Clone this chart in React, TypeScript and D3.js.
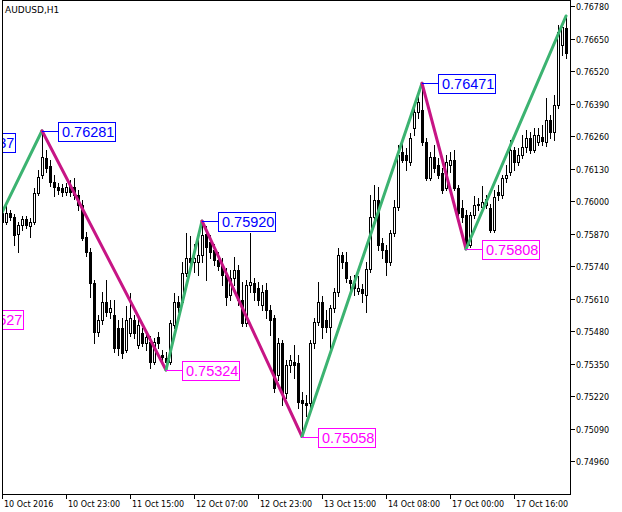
import React from "react";
import * as d3 from "d3";

const W = 622;
const H = 512;

const SYMBOL_TITLE = "AUDUSD,H1";

const PRICE_TICKS = [0.7678, 0.7665, 0.7652, 0.7639, 0.7626, 0.7613, 0.76, 0.7587, 0.7574, 0.7561, 0.7548, 0.7535, 0.7522, 0.7509, 0.7496];

const TIME_LABEL_BARS = [0, 16, 32, 48, 64, 80, 96, 112, 128];
const TIME_LABELS = ["10 Oct 2016", "10 Oct 23:00", "11 Oct 15:00", "12 Oct 07:00", "12 Oct 23:00", "13 Oct 15:00", "14 Oct 08:00", "17 Oct 00:00", "17 Oct 16:00"];

const OPEN = [
  0.75952, 0.75916, 0.75952, 0.75936, 0.75868, 0.75904, 0.75928, 0.759, 0.75916, 0.76032,
  0.76104, 0.76172, 0.7614, 0.76076, 0.76056, 0.76052, 0.76036, 0.76064, 0.76056, 0.76024,
  0.75984, 0.75856, 0.75796, 0.75672, 0.75476, 0.75524, 0.75596, 0.75556, 0.75544, 0.75492,
  0.75492, 0.75404, 0.75472, 0.75524, 0.75424, 0.75472, 0.75432, 0.75436, 0.75356, 0.75456,
  0.75384, 0.75372, 0.75356, 0.75504, 0.75596, 0.75596, 0.75712, 0.75772, 0.75756, 0.75756,
  0.75784, 0.75868, 0.75836, 0.75804, 0.75764, 0.75744, 0.75704, 0.75624, 0.75692, 0.75724,
  0.75604, 0.75512, 0.75664, 0.75672, 0.75652, 0.75584, 0.75644, 0.75564, 0.75532, 0.75304,
  0.75432, 0.75232, 0.75344, 0.75356, 0.75352, 0.75204, 0.75192, 0.75192, 0.75432, 0.75516,
  0.75596, 0.75524, 0.75496, 0.75572, 0.75636, 0.75784, 0.75756, 0.75684, 0.75672, 0.7564,
  0.75648, 0.75624, 0.75728, 0.75936, 0.76004, 0.75832, 0.75804, 0.75756, 0.75872, 0.75976,
  0.76196, 0.76184, 0.76156, 0.76292, 0.76356, 0.76364, 0.76236, 0.76092, 0.76176, 0.76144,
  0.76112, 0.76052, 0.76144, 0.76164, 0.76052, 0.75972, 0.75944, 0.75824, 0.75944, 0.75984,
  0.75976, 0.75984, 0.75972, 0.75884, 0.76036, 0.76024, 0.76092, 0.76116, 0.76204, 0.76156,
  0.76184, 0.76216, 0.76252, 0.76204, 0.76236, 0.76256, 0.76236, 0.76324, 0.76276, 0.76384,
  0.76624, 0.76692,
];

const HIGH = [
  0.75972, 0.75988, 0.75964, 0.75948, 0.75916, 0.7594, 0.7594, 0.75932, 0.76052, 0.76124,
  0.76281, 0.76204, 0.76164, 0.76104, 0.76072, 0.76068, 0.76072, 0.76084, 0.76092, 0.76044,
  0.76004, 0.75876, 0.75812, 0.75684, 0.75544, 0.75636, 0.75684, 0.75604, 0.75604, 0.75524,
  0.75532, 0.7558, 0.75632, 0.75544, 0.75532, 0.75492, 0.75484, 0.7546, 0.75452, 0.75476,
  0.75404, 0.75396, 0.75524, 0.75632, 0.7562, 0.75756, 0.75872, 0.7586, 0.75828, 0.75844,
  0.7592, 0.759, 0.75864, 0.75828, 0.75796, 0.75772, 0.75732, 0.75724, 0.75776, 0.75744,
  0.75676, 0.75684, 0.75872, 0.75692, 0.75676, 0.75664, 0.75672, 0.75584, 0.75544, 0.75452,
  0.75444, 0.75364, 0.75384, 0.75424, 0.75384, 0.75236, 0.75224, 0.75444, 0.75532, 0.75676,
  0.7562, 0.75564, 0.75584, 0.75652, 0.75812, 0.75796, 0.75796, 0.757, 0.75704, 0.757,
  0.75668, 0.75756, 0.76024, 0.76064, 0.76056, 0.75852, 0.75824, 0.75884, 0.76004, 0.76224,
  0.76232, 0.76212, 0.76272, 0.76372, 0.76436, 0.76471, 0.76252, 0.76196, 0.76224, 0.76172,
  0.76132, 0.76184, 0.76196, 0.76204, 0.76064, 0.76004, 0.75964, 0.75956, 0.7602, 0.76012,
  0.7606, 0.76024, 0.75988, 0.76044, 0.76064, 0.76104, 0.76144, 0.76244, 0.76216, 0.76212,
  0.76264, 0.76284, 0.76276, 0.76292, 0.76292, 0.76304, 0.76412, 0.76344, 0.76424, 0.76704,
  0.76716, 0.7674,
];

const LOW = [
  0.75908, 0.75908, 0.75924, 0.75824, 0.75796, 0.75884, 0.75892, 0.75856, 0.75908, 0.76024,
  0.76092, 0.76116, 0.7606, 0.7602, 0.76028, 0.7602, 0.76024, 0.7602, 0.76008, 0.75964,
  0.75844, 0.7578, 0.75616, 0.75432, 0.7546, 0.75508, 0.7554, 0.75532, 0.75396, 0.75384,
  0.75372, 0.75396, 0.7546, 0.75452, 0.75412, 0.7542, 0.75404, 0.75332, 0.75348, 0.75412,
  0.75356, 0.75324, 0.75348, 0.75492, 0.75556, 0.75588, 0.757, 0.75724, 0.75716, 0.75704,
  0.75756, 0.75684, 0.75772, 0.75744, 0.75724, 0.75664, 0.75584, 0.75604, 0.75664, 0.75584,
  0.755, 0.755, 0.75636, 0.75604, 0.75584, 0.75564, 0.75532, 0.75464, 0.75236, 0.75284,
  0.75184, 0.75212, 0.75316, 0.75292, 0.75172, 0.75058, 0.7514, 0.75172, 0.75412, 0.75504,
  0.75452, 0.75476, 0.75412, 0.75556, 0.7562, 0.75732, 0.75676, 0.75644, 0.75624, 0.75628,
  0.75596, 0.75556, 0.75716, 0.75924, 0.75804, 0.75772, 0.75704, 0.75744, 0.7586, 0.75964,
  0.76156, 0.76124, 0.76144, 0.76264, 0.76332, 0.76224, 0.76084, 0.76084, 0.76116, 0.76092,
  0.76032, 0.76044, 0.76116, 0.76044, 0.75932, 0.75916, 0.75808, 0.75816, 0.75932, 0.75964,
  0.75956, 0.75972, 0.75876, 0.75876, 0.76004, 0.76012, 0.76076, 0.76104, 0.76124, 0.76144,
  0.76172, 0.76196, 0.76192, 0.76196, 0.76224, 0.76224, 0.7622, 0.76252, 0.76244, 0.76372,
  0.76584, 0.76572,
];

const CLOSE = [
  0.75916, 0.75952, 0.75936, 0.75864, 0.75904, 0.75928, 0.75904, 0.75916, 0.76032, 0.76096,
  0.76176, 0.76132, 0.76076, 0.76056, 0.76044, 0.76036, 0.76056, 0.76036, 0.76024, 0.75984,
  0.75852, 0.75796, 0.75672, 0.75476, 0.75524, 0.75596, 0.75556, 0.75572, 0.75412, 0.75412,
  0.75392, 0.75524, 0.75532, 0.75472, 0.75504, 0.75432, 0.75456, 0.75356, 0.75436, 0.75432,
  0.75376, 0.75356, 0.75512, 0.75596, 0.75576, 0.75712, 0.75772, 0.75756, 0.75772, 0.75784,
  0.75864, 0.75816, 0.75796, 0.75764, 0.7574, 0.75704, 0.75616, 0.75692, 0.75724, 0.75604,
  0.75512, 0.75664, 0.75676, 0.75636, 0.75604, 0.75636, 0.75564, 0.75524, 0.75252, 0.75432,
  0.75232, 0.75344, 0.75364, 0.75344, 0.75196, 0.75192, 0.75184, 0.75432, 0.75516, 0.75596,
  0.75496, 0.75496, 0.75572, 0.75636, 0.75784, 0.75756, 0.75692, 0.75672, 0.75652, 0.75652,
  0.75632, 0.75728, 0.75936, 0.76004, 0.75824, 0.75804, 0.75756, 0.75872, 0.75976, 0.76184,
  0.76164, 0.76164, 0.76252, 0.76356, 0.76396, 0.76236, 0.76092, 0.76176, 0.76132, 0.76104,
  0.76044, 0.76156, 0.76164, 0.76052, 0.75952, 0.75936, 0.75824, 0.75944, 0.75984, 0.75988,
  0.75996, 0.76008, 0.75884, 0.76016, 0.76024, 0.76092, 0.76104, 0.76204, 0.76156, 0.76184,
  0.76216, 0.76252, 0.76204, 0.76264, 0.76264, 0.7624, 0.76324, 0.76276, 0.76384, 0.76676,
  0.76696, 0.76592,
];

// ZigZag pivots (bar index relative to first visible bar, price)
const PIVOT_BARS = [-15, -13, 10, 41, 50, 75, 105, 116, 141];
const PIVOT_PRICES = [0.76237, 0.75527, 0.76281, 0.75324, 0.7592, 0.75058, 0.76471, 0.75808, 0.7674];
const PIVOT_LABELS = ["0.76237", "0.75527", "0.76281", "0.75324", "0.75920", "0.75058", "0.76471", "0.75808", ""];

const PLOT_L = 2;
const PLOT_R = 570;
const PLOT_T = 0;
const PLOT_B = 494;

const AXIS_FONT = "'DejaVu Sans', sans-serif";
const LABEL_FONT = "'Liberation Sans', Arial, sans-serif";
const UP_COLOR = "#3cb371";
const DOWN_COLOR = "#c71585";
const HIGH_LABEL_COLOR = "#0000ff";
const LOW_LABEL_COLOR = "#ff00ff";

export default function App() {
  const n = OPEN.length;
  const x = d3.scaleLinear().domain([0, n - 1]).range([2, 566]);
  const y = d3.scaleLinear().domain([0.7496, 0.7678]).range([461, 6]);

  const candles = d3.range(n).map((i) => {
    const cx = Math.round(x(i));
    const o = OPEN[i], c = CLOSE[i], h = HIGH[i], l = LOW[i];
    const yh = Math.round(y(h));
    const yl = Math.round(y(l));
    const top = Math.round(y(Math.max(o, c)));
    const bot = Math.round(y(Math.min(o, c)));
    const bull = c > o;
    return (
      <g key={i}>
        <rect x={cx} y={yh} width={1} height={Math.max(1, yl - yh + 1)} fill="#000" />
        {bot - top < 1 ? (
          <rect x={cx - 1} y={top} width={3} height={1} fill="#000" />
        ) : bull ? (
          <rect x={cx - 0.5} y={top + 0.5} width={2} height={bot - top} fill="#fff" stroke="#000" strokeWidth={1} />
        ) : (
          <rect x={cx - 1} y={top} width={3} height={bot - top + 1} fill="#000" />
        )}
      </g>
    );
  });

  const line = d3
    .line<number>()
    .x((i) => x(PIVOT_BARS[i]))
    .y((i) => y(PIVOT_PRICES[i]));

  const segments = d3.range(PIVOT_BARS.length - 1).map((k) => {
    const up = PIVOT_PRICES[k + 1] > PIVOT_PRICES[k];
    return (
      <path
        key={k}
        d={line([k, k + 1]) || ""}
        stroke={up ? UP_COLOR : DOWN_COLOR}
        strokeWidth={3}
        fill="none"
        strokeLinecap="round"
      />
    );
  });

  const labels = d3.range(PIVOT_BARS.length).filter((k) => PIVOT_LABELS[k] !== "").map((k) => {
    const px = x(PIVOT_BARS[k]);
    const py = Math.round(y(PIVOT_PRICES[k]));
    const isHigh =
      (k > 0 && PIVOT_PRICES[k] > PIVOT_PRICES[k - 1]) ||
      (k === 0 && PIVOT_PRICES[k] > PIVOT_PRICES[k + 1]);
    const col = isHigh ? HIGH_LABEL_COLOR : LOW_LABEL_COLOR;
    const bx = Math.round(px) + 16;
    return (
      <g key={k}>
        <line x1={px} x2={bx} y1={py + 0.5} y2={py + 0.5} stroke={col} strokeWidth={1} />
        <rect x={bx + 0.5} y={py - 9 + 0.5} width={57} height={19} fill="#fff" stroke={col} strokeWidth={1} />
        <text x={bx + 4} y={py + 6} fill={col} fontFamily={LABEL_FONT} fontSize={14.5}>
          {PIVOT_LABELS[k]}
        </text>
      </g>
    );
  });

  return (
    <div style={{ position: "fixed", left: 0, top: 0, width: W, height: H, background: "#fff" }}>
      <svg width={W} height={H} style={{ display: "block" }}>
        <defs>
          <clipPath id="plotClip">
            <rect x={PLOT_L + 1} y={PLOT_T + 1} width={PLOT_R - PLOT_L - 1} height={PLOT_B - PLOT_T - 1} />
          </clipPath>
        </defs>
        <rect x={0} y={0} width={W} height={H} fill="#fff" />
        <g clipPath="url(#plotClip)">
          {candles}
          {segments}
          {labels}
        </g>
        <rect x={PLOT_L + 0.5} y={PLOT_T + 0.5} width={PLOT_R - PLOT_L} height={PLOT_B - PLOT_T} fill="none" stroke="#000" strokeWidth={1} />
        <text x={5} y={13} fontFamily={AXIS_FONT} fontSize={9} fill="#000">
          {SYMBOL_TITLE}
        </text>
        {PRICE_TICKS.map((p) => {
          const py = Math.round(y(p));
          return (
            <g key={p}>
              <line x1={PLOT_R + 1} x2={PLOT_R + 5} y1={py + 0.5} y2={py + 0.5} stroke="#000" />
              <text x={PLOT_R + 6} y={py + 3.5} fontFamily={AXIS_FONT} fontSize={8} fill="#000">
                {p.toFixed(5)}
              </text>
            </g>
          );
        })}
        {TIME_LABEL_BARS.map((b, k) => {
          const tx = Math.round(x(b));
          return (
            <g key={b}>
              <line x1={tx + 0.5} x2={tx + 0.5} y1={PLOT_B + 1} y2={PLOT_B + 5} stroke="#000" />
              <text x={tx + 2} y={PLOT_B + 13} fontFamily={AXIS_FONT} fontSize={8} fill="#000">
                {TIME_LABELS[k]}
              </text>
            </g>
          );
        })}
      </svg>
    </div>
  );
}
